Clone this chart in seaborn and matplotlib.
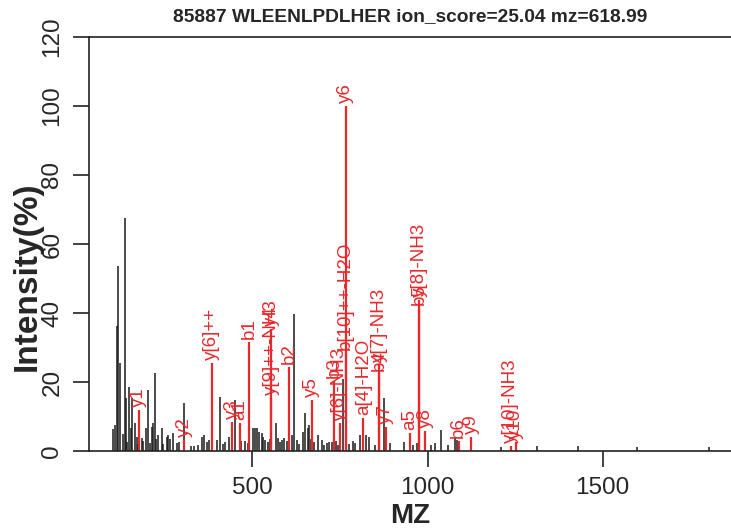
import matplotlib
matplotlib.use("Agg")
import matplotlib.pyplot as plt
import seaborn as sns

# unmatched peaks (black)
peak_mz = [101.6, 109.0, 113.0, 117.6, 121.6, 130.1, 135.8, 139.6, 147.3, 153.0,
           157.5, 164.4, 170.1, 184.4, 195.8, 203.2, 212.9, 217.5, 222.3, 231.7,
           241.4, 255.7, 265.1, 274.5, 284.2, 306.5, 325.1, 334.5, 355.6, 363.0,
           369.9, 376.4, 398.4, 406.4, 422.1, 433.5, 451.5, 467.8, 502.9, 507.7,
           512.6, 519.1, 526.8, 536.2, 545.7, 566.8, 574.2, 583.9, 591.3, 612.4,
           619.9, 627.6, 645.5, 651.8, 658.1, 661.8, 688.4, 698.1, 712.3, 726.6,
           758.6, 793.1, 807.4, 823.6, 833.9, 850.2, 875.9, 893.0, 933.5, 959.5,
           969.2, 1010.8, 1021.4, 1039.4, 1058.0, 1078.5, 1083.3, 1209.8, 1312.5,
           1429.5, 1597.9, 1803.4,
           143.5, 175.0, 188.0, 208.0, 226.5, 246.0, 260.5, 290.0, 344.0, 386.0,
           415.0, 441.0, 478.0, 489.0, 531.0, 551.0, 579.0, 598.0, 604.0, 633.0,
           667.0, 676.0, 705.0, 719.0, 738.0, 745.0, 777.0, 786.0]
peak_int = [6.4, 7.5, 36.2, 53.7, 25.6, 5.0, 67.4, 15.4, 18.5, 6.7,
            15.4, 8.0, 4.0, 3.7, 6.7, 17.7, 7.0, 8.0, 22.6, 4.6,
            6.6, 4.0, 3.5, 5.1, 2.4, 13.8, 1.4, 1.4, 4.0, 4.6,
            2.7, 3.2, 3.2, 15.7, 2.7, 4.1, 14.8, 3.0, 6.8, 6.8,
            6.6, 5.6, 5.2, 3.2, 2.7, 8.2, 3.7, 3.2, 3.7, 4.6,
            39.6, 3.2, 5.6, 10.9, 6.6, 7.5, 4.6, 3.2, 2.2, 2.7,
            21.0, 2.2, 4.6, 4.6, 4.2, 1.7, 15.4, 2.2, 2.7, 1.7,
            2.2, 1.7, 2.2, 6.1, 1.7, 3.8, 3.2, 1.3, 1.4,
            1.4, 1.3, 1.3,
            2.5, 2.0, 3.0, 2.2, 3.5, 2.0, 4.5, 2.6, 1.6, 2.4,
            2.0, 3.0, 2.8, 2.2, 4.0, 3.4, 2.6, 3.0, 2.4, 2.0,
            3.6, 2.5, 1.8, 2.6, 3.0, 1.8, 2.0, 2.8]

# matched fragment ions (red)
ion_labels = ["y1", "y2", "y[6]++", "y3", "a1", "b1", "y[9]++-NH3", "y4", "b2", "y5",
              "b3", "y[6]-NH3", "y6", "b[10]++-H2O", "a[4]-H2O", "b4", "y[7]-NH3", "y7",
              "a5", "b5", "y[8]-NH3", "y8", "b6", "y9", "y[10]-NH3", "y10"]
ion_mz = [176.0, 305.0, 384.0, 443.0, 465.0, 491.0, 553.3, 554.3, 605.0, 670.0,
          733.0, 750.0, 766.5, 766.0, 817.0, 862.5, 862.5, 880.7,
          950.0, 976.7, 976.7, 993.8, 1089.0, 1124.0, 1237.5, 1251.7]
ion_int = [11.9, 3.2, 25.5, 8.4, 8.1, 31.7, 15.5, 35.5, 24.4, 14.8,
           20.3, 8.0, 100.0, 28.5, 9.5, 22.5, 25.0, 7.0,
           5.2, 41.4, 43.8, 5.8, 2.9, 4.1, 1.5, 2.7]

title = "85887 WLEENLPDLHER ion_score=25.04 mz=618.99"
red = "#E8282B"

sns.set_theme(style="ticks")
plt.rcParams["font.family"] = ["Liberation Sans", "DejaVu Sans"]

fig = plt.figure(figsize=(7.31, 5.29), dpi=100)
ax = fig.add_axes([89 / 731, 78 / 529, 642 / 731, 414 / 529])

ax.vlines(peak_mz, 0, peak_int, color="#1a1a1a", linewidth=1.1)
ax.vlines(ion_mz, 0, ion_int, color=red, linewidth=1.6)
for lab, x, y in zip(ion_labels, ion_mz, ion_int):
    ax.annotate(lab, (x, y), xytext=(0, 2), textcoords="offset points",
                rotation=90, ha="center", va="bottom", color=red, fontsize=13.5)

ax.set_xlim(34, 1866)
ax.set_ylim(0, 120)
ax.set_xticks([500, 1000, 1500])
ax.set_yticks(range(0, 121, 20))
ax.tick_params(axis="both", length=11.5, width=1.2, color="#222222", labelsize=17.5, pad=7)
ax.tick_params(axis="y", labelrotation=90)
for t in ax.get_yticklabels():
    t.set_va("center")
for side in ["left", "top", "bottom"]:
    ax.spines[side].set_linewidth(1.2)
    ax.spines[side].set_color("#222222")
ax.spines["right"].set_visible(False)

fig.text(410 / 731, 1 - 17 / 529, title, ha="center", va="center", fontsize=13.8, fontweight="bold")
fig.text(27 / 731, 1 - 276 / 529, "Intensity(%)", rotation=90, ha="center", va="center",
         fontsize=24, fontweight="bold")
fig.text(410 / 731, 1 - 516 / 529, "MZ", ha="center", va="center", fontsize=20, fontweight="bold")

fig.savefig("out.png", dpi=100)
